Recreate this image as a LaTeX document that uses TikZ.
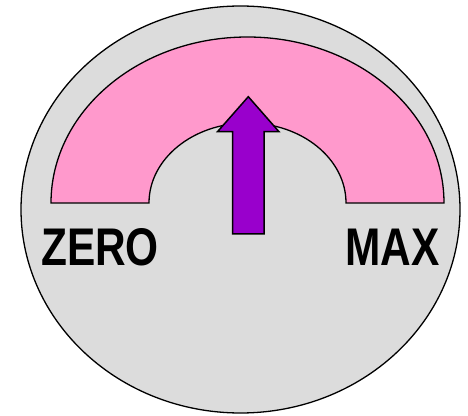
\documentclass[tikz,border=0pt]{standalone}
\usepackage{fontspec}
\setmainfont{Liberation Sans}
\definecolor{dialgray}{RGB}{220,220,220}
\definecolor{dialpink}{RGB}{255,153,204}
\definecolor{dialpurple}{RGB}{153,0,204}
\begin{document}
\begin{tikzpicture}[x=1pt,y=1pt,
  outline/.style={draw=black, line width=1.3pt, line join=miter},
  lbl/.style={anchor=base, inner sep=0pt, font=\fontsize{53}{53}\selectfont\bfseries}]
\useasboundingbox (0,0) rectangle (468,415);
% dial body
\fill[dialgray] (240.5,205.5) ellipse [x radius=219.5, y radius=203.5];
\draw[outline] (240.5,205.5) ellipse [x radius=219.5, y radius=203.5];
% pink scale arch
\path[outline, fill=dialpink]
  (51,212) arc[start angle=180, end angle=0, x radius=196.5, y radius=166]
  -- (346,212) arc[start angle=0, end angle=180, x radius=98.5, y radius=80]
  -- cycle;
% pointer arrow
\path[outline, fill=dialpurple, line width=1.5pt]
  (232.7,181) -- (232.7,283.3) -- (217.5,283.3) -- (248.3,318.3)
  -- (279,283.3) -- (264,283.3) -- (264,181) -- cycle;
% labels
\node[lbl] (zero) at (100,149) {\scalebox{0.8}[1]{ZERO}};
\node[lbl] (max) at (392.5,149) {\scalebox{0.8}[1]{MAX}};
\end{tikzpicture}
\end{document}
